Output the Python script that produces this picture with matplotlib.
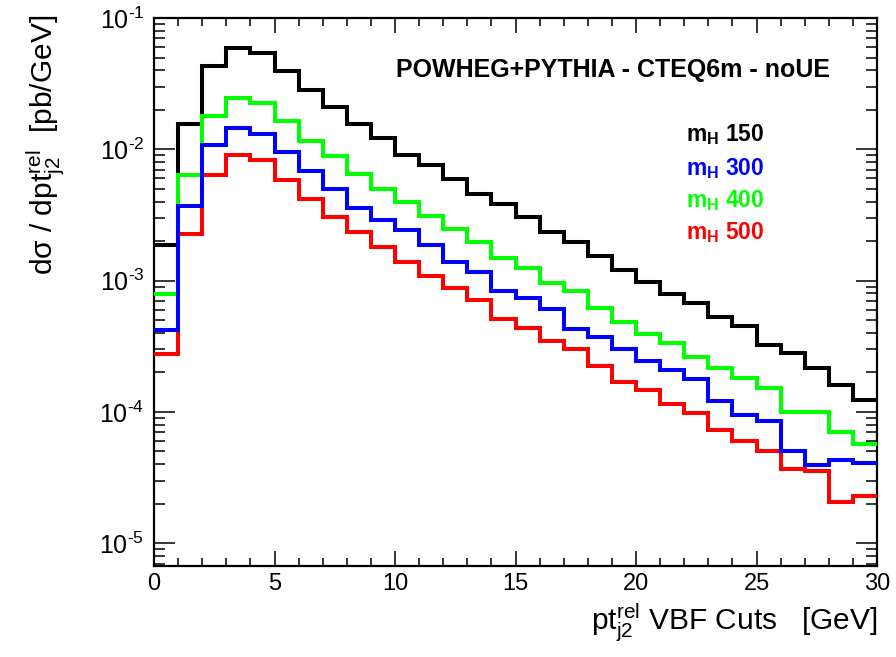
# ---------------------------------------------
# pt_rel of second tag jet, VBF cuts, log scale
# ---------------------------------------------

import matplotlib
matplotlib.use("Agg")
import matplotlib.pyplot as plt
from matplotlib.ticker import MultipleLocator, LogLocator, NullFormatter, FuncFormatter
import numpy as np

plt.rcParams["font.family"] = ["Liberation Sans", "DejaVu Sans"]
plt.rcParams["mathtext.fontset"] = "custom"
plt.rcParams["mathtext.rm"] = "Liberation Sans"
plt.rcParams["mathtext.it"] = "Liberation Sans"
plt.rcParams["mathtext.bf"] = "Liberation Sans:bold"

# ---------------------------------------------
# DATA
# ---------------------------------------------

bin_edges = list(range(0, 31))

mh150 = [1.88e-3, 1.56e-2, 4.31e-2, 5.94e-2, 5.39e-2, 3.96e-2, 2.83e-2, 2.09e-2,
         1.56e-2, 1.22e-2, 8.98e-3, 7.55e-3, 5.93e-3, 4.59e-3, 3.85e-3, 3.05e-3,
         2.33e-3, 1.96e-3, 1.55e-3, 1.20e-3, 9.7e-4, 7.9e-4, 6.8e-4, 5.3e-4,
         4.49e-4, 3.22e-4, 2.79e-4, 2.14e-4, 1.59e-4, 1.24e-4]

mh300 = [4.19e-4, 3.67e-3, 1.08e-2, 1.45e-2, 1.31e-2, 9.62e-3, 6.78e-3, 5.01e-3,
         3.57e-3, 2.91e-3, 2.42e-3, 1.88e-3, 1.38e-3, 1.156e-3, 8.3e-4, 7.38e-4,
         6.09e-4, 4.3e-4, 3.73e-4, 3.03e-4, 2.43e-4, 2.08e-4, 1.77e-4, 1.21e-4,
         9.4e-5, 8.5e-5, 5.04e-5, 3.92e-5, 4.27e-5, 4.06e-5]

mh400 = [7.93e-4, 6.4e-3, 1.80e-2, 2.45e-2, 2.24e-2, 1.655e-2, 1.148e-2, 8.82e-3,
         6.51e-3, 4.98e-3, 3.94e-3, 3.08e-3, 2.47e-3, 1.96e-3, 1.49e-3, 1.25e-3,
         9.6e-4, 8.3e-4, 6.2e-4, 4.82e-4, 3.89e-4, 3.32e-4, 2.63e-4, 2.17e-4,
         1.80e-4, 1.53e-4, 9.97e-5, 9.97e-5, 7.02e-5, 5.73e-5]

mh500 = [2.74e-4, 2.28e-3, 6.4e-3, 8.98e-3, 8.22e-3, 5.86e-3, 4.18e-3, 3.05e-3,
         2.33e-3, 1.80e-3, 1.38e-3, 1.09e-3, 8.8e-4, 7.17e-4, 5.12e-4, 4.37e-4,
         3.46e-4, 3.03e-4, 2.23e-4, 1.69e-4, 1.47e-4, 1.14e-4, 9.86e-5, 7.28e-5,
         6.0e-5, 5.04e-5, 3.66e-5, 3.55e-5, 2.06e-5, 2.29e-5]

labels = ["150", "300", "400", "500"]
colors = ["black", "blue", "#00ff00", "red"]

# ---------------------------------------------
# FIGURE
# ---------------------------------------------

W, H = 896, 657
fig = plt.figure(figsize=(W / 100, H / 100), dpi=100)
ax = fig.add_axes([154 / W, 1 - 566 / H, (877 - 154) / W, (566 - 18) / H])

# draw order: black at the bottom, blue on top
ax.stairs(mh150, bin_edges, baseline=None, color="black", lw=2.9, zorder=2)
ax.stairs(mh500, bin_edges, baseline=None, color="red", lw=2.9, zorder=3)
ax.stairs(mh400, bin_edges, baseline=None, color="#00ff00", lw=2.9, zorder=4)
ax.stairs(mh300, bin_edges, baseline=None, color="blue", lw=2.9, zorder=5)

ax.set_yscale("log")
ax.set_xlim(0, 30)
ax.set_ylim(6.7e-6, 0.1)

# ROOT style ticks: inside, on all four sides
ax.xaxis.set_major_locator(MultipleLocator(5))
ax.xaxis.set_minor_locator(MultipleLocator(1))
ax.yaxis.set_major_locator(LogLocator(base=10, numticks=10))
ax.yaxis.set_minor_locator(LogLocator(base=10, subs=range(2, 10), numticks=10))
ax.yaxis.set_minor_formatter(NullFormatter())
# ROOT writes the exponent with a plain hyphen
ax.yaxis.set_major_formatter(FuncFormatter(
    lambda v, pos: "10$^{\\text{-%d}}$" % round(-np.log10(v))))

ax.tick_params(axis="both", which="both", direction="in", top=True, right=True, width=1.1)
ax.tick_params(axis="x", which="major", length=11, labelsize=17, pad=5)
ax.tick_params(axis="x", which="minor", length=5.5)
ax.tick_params(axis="y", which="major", length=15, labelsize=18, pad=7)
ax.tick_params(axis="y", which="minor", length=8)
for s in ax.spines.values():
    s.set_linewidth(1.6)

# ---------------------------------------------
# TEXT
# ---------------------------------------------

fig.text(396 / W, 1 - 77 / H, "POWHEG+PYTHIA - CTEQ6m - noUE",
         fontsize=18, fontweight="bold", va="baseline", ha="left")

baselines = [141.5, 175, 207, 239]
for lab, col, yb in zip(labels, colors, baselines):
    fig.text(686 / W, 1 - yb / H, r"$\mathbf{m}_\mathbf{H}$ " + lab,
             color=col, fontsize=16.5, fontweight="bold", va="baseline", ha="left")

fig.text(877 / W, 1 - 630 / H, r"pt$^{rel}_{j2}$ VBF Cuts   [GeV]",
         fontsize=21.5, ha="right", va="baseline")

fig.text(46 / W, 1 - 15 / H, r"dσ / dpt$^{rel}_{j2}$  [pb/GeV]",
         fontsize=21.5, rotation=90, ha="center", va="top")

fig.savefig("out.png", dpi=100)
